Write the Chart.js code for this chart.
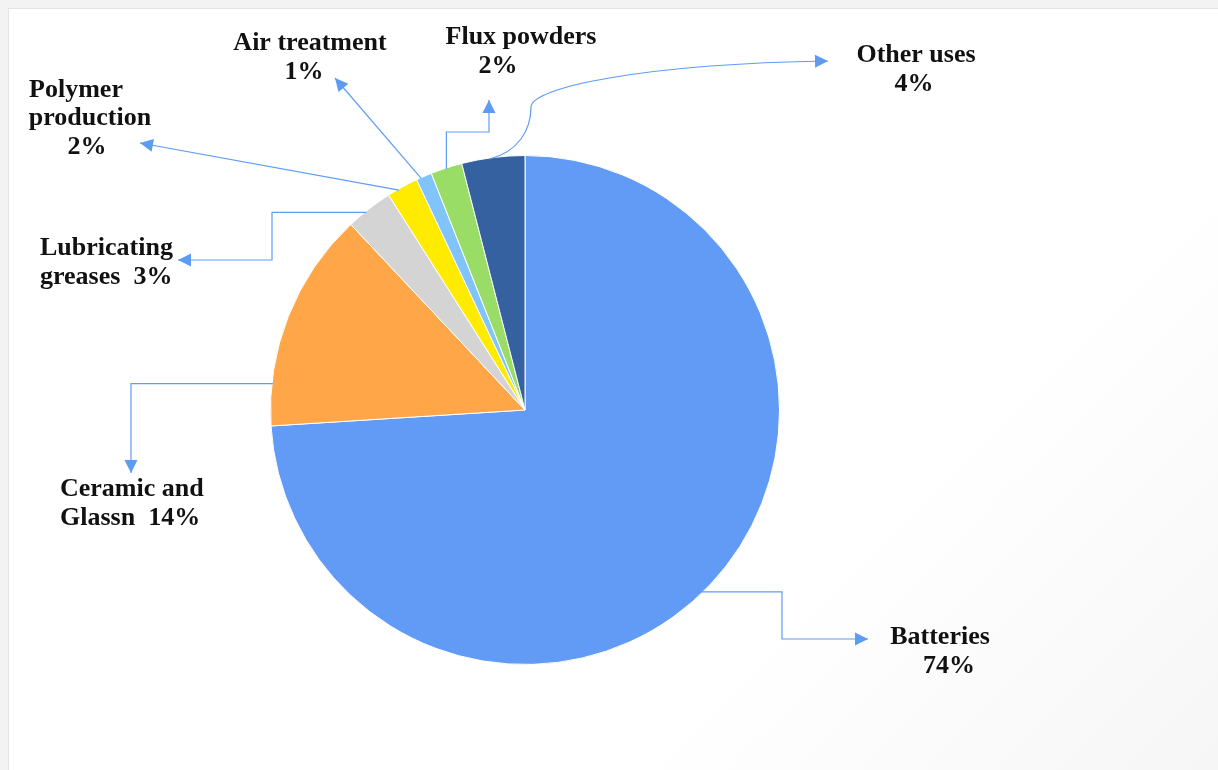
<!DOCTYPE html>
<html>
<head>
<meta charset="utf-8">
<title>Lithium uses</title>
<script src="https://cdn.jsdelivr.net/npm/chart.js@4/dist/chart.umd.min.js"></script>
<style>
    html, body { margin: 0; padding: 0; background: #f3f3f3; }
    .frame {
        position: absolute; left: 8px; top: 8px; width: 1210px; height: 762px;
        background: linear-gradient(135deg, #ffffff 70%, #f6f6f6 100%);
        border-top: 1px solid #e4e4e4; border-left: 1px solid #e4e4e4;
    }
    #chart { position: absolute; left: 0; top: 0; }
</style>
</head>
<body>
<div class="frame"></div>
<canvas id="chart" width="1218" height="770"></canvas>
<script>
// === DATA ===
const categories = ["Batteries", "Ceramic and Glassn", "Lubricating greases", "Polymer production", "Air treatment", "Flux powders", "Other uses"];
const shares = [74, 14, 3, 2, 1, 2, 4];
const sliceColors = ["#619bf5", "#ffa648", "#d4d4d4", "#ffeb00", "#80c4fb", "#99dc66", "#3561a0"];

// label text lines, one array per category (value shown as "%")
const labelLines = [
    ["Batteries", "74%"],
    ["Ceramic and", "Glassn  14%"],
    ["Lubricating", "greases  3%"],
    ["Polymer", "production", "2%"],
    ["Air treatment", "1%"],
    ["Flux powders", "2%"],
    ["Other uses", "4%"],
];

// === LAYOUT (callouts) ===
// t = where on the slice rim the leader starts (0..1 along the arc)
// path = leader commands after the start point, last point is the arrow tip
// text = [x, y] of each line, align
const callouts = [
    { t: 0.51, path: [["h", 782], ["v", 639], ["h", 868]], text: [[940, 637], [949, 666]], align: "center" },
    { t: 0.19, path: [["h", 131], ["v", 473]], text: [[60, 489], [60, 518]], align: "left" },
    { t: 0.41, path: [["h", 272], ["v", 260], ["h", 178]], text: [[40, 248], [40, 277]], align: "left" },
    { t: 0.36, path: [["l", 140, 143]], text: [[76, 90], [90, 118], [87, 147]], align: "center" },
    { t: 0.30, path: [["l", 335, 78]], text: [[310, 43], [304, 72]], align: "center" },
    { t: 0.49, path: [["v", 132], ["h", 489], ["v", 100]], text: [[521, 37], [498, 66]], align: "center" },
    { t: 0.44, path: [["c", 518, 152, 531, 130, 531, 107], ["c", 531, 88, 640, 64, 828, 61]], text: [[916, 55], [914, 84]], align: "center" },
];

const LINE_COLOR = "#5e9cf4";
const FONT = "bold 26px 'Liberation Serif', 'Times New Roman', serif";

// === PLUGIN: leader lines + labels ===
const calloutPlugin = {
    id: "callouts",
    afterDatasetsDraw(chart) {
        const ctx = chart.ctx;
        const meta = chart.getDatasetMeta(0);

        meta.data.forEach((arc, i) => {
            const c = callouts[i];
            const p = arc.getProps(["x", "y", "startAngle", "endAngle", "outerRadius"], true);
            const a = p.startAngle + c.t * (p.endAngle - p.startAngle);
            let x = p.x + Math.cos(a) * (p.outerRadius - 1);
            let y = p.y + Math.sin(a) * (p.outerRadius - 1);

            ctx.save();
            ctx.strokeStyle = LINE_COLOR;
            ctx.fillStyle = LINE_COLOR;
            ctx.lineWidth = 1.2;
            ctx.beginPath();
            ctx.moveTo(x, y);
            let px = x, py = y; // previous point, for arrow direction
            c.path.forEach((cmd) => {
                if (cmd[0] === "h") { px = x; py = y; x = cmd[1]; ctx.lineTo(x, y); }
                else if (cmd[0] === "v") { px = x; py = y; y = cmd[1]; ctx.lineTo(x, y); }
                else if (cmd[0] === "l") { px = x; py = y; x = cmd[1]; y = cmd[2]; ctx.lineTo(x, y); }
                else if (cmd[0] === "c") {
                    ctx.bezierCurveTo(cmd[1], cmd[2], cmd[3], cmd[4], cmd[5], cmd[6]);
                    px = cmd[3]; py = cmd[4]; x = cmd[5]; y = cmd[6];
                }
            });
            ctx.stroke();

            // arrow head
            const ang = Math.atan2(y - py, x - px);
            const len = 13, half = 6.5;
            ctx.beginPath();
            ctx.moveTo(x, y);
            ctx.lineTo(x - len * Math.cos(ang) + half * Math.sin(ang), y - len * Math.sin(ang) - half * Math.cos(ang));
            ctx.lineTo(x - len * Math.cos(ang) - half * Math.sin(ang), y - len * Math.sin(ang) + half * Math.cos(ang));
            ctx.closePath();
            ctx.fill();

            // text
            ctx.fillStyle = "#111";
            ctx.font = FONT;
            ctx.textAlign = c.align;
            ctx.textBaseline = "middle";
            labelLines[i].forEach((line, j) => {
                ctx.fillText(line, c.text[j][0], c.text[j][1]);
            });
            ctx.restore();
        });
    },
};

// === CHART ===
new Chart(document.getElementById("chart").getContext("2d"), {
    type: "pie",
    data: {
        labels: categories,
        datasets: [
            {
                data: shares,
                backgroundColor: sliceColors,
                borderColor: "#ffffff",
                borderWidth: 1,
            },
        ],
    },
    options: {
        responsive: false,
        animation: false,
        layout: { padding: { left: 270, right: 438, top: 155, bottom: 105 } },
        plugins: {
            legend: { display: false },
            tooltip: { enabled: false },
        },
    },
    plugins: [calloutPlugin],
});
</script>
</body>
</html>
